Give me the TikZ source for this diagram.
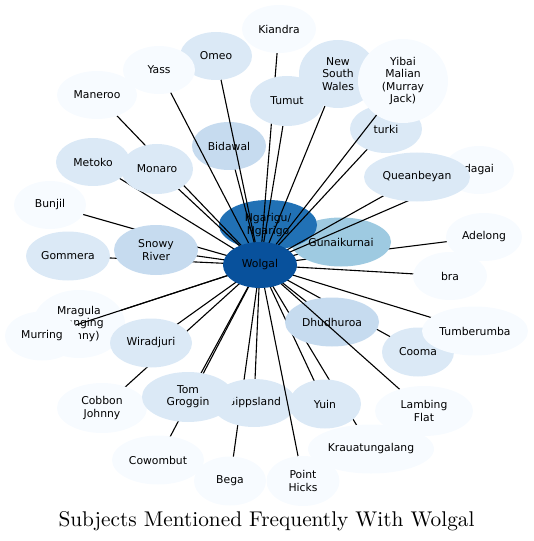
\documentclass[tikz,border=0pt]{standalone}
\usepackage{fontspec}
\newfontfamily\dvsans{DejaVu Sans}
\usetikzlibrary{shapes.geometric}
\definecolor{cA}{HTML}{08519C}
\definecolor{cB}{HTML}{2171B5}
\definecolor{cC}{HTML}{9ECAE1}
\definecolor{cD}{HTML}{C6DBEF}
\definecolor{cE}{HTML}{DBE9F6}
\definecolor{cF}{HTML}{F7FBFF}
\begin{document}
\begin{tikzpicture}[x=1bp,y=-1bp,
  nd/.style={ellipse, inner sep=0pt, align=center, text=black,
    font=\dvsans\fontsize{10.8bp}{12.2bp}\selectfont},
  sz/.style 2 args={minimum width=#1bp, minimum height=#2bp},
  ed/.style={line width=1.1bp, black},
  lvA/.style={nd, fill=cA}, lvB/.style={nd, fill=cB}, lvC/.style={nd, fill=cC},
  lvD/.style={nd, fill=cD}, lvE/.style={nd, fill=cE}, lvF/.style={nd, fill=cF}]
\useasboundingbox (0,0) rectangle (534,541);
% centres
\coordinate (wolgal) at (260,265);
\coordinate (adelong) at (484,237);
\coordinate (gunai) at (341,242);
\coordinate (ngarigu) at (268,225);
\coordinate (bidawal) at (229,146);
\coordinate (omeo) at (216,56);
\coordinate (yass) at (159,70);
\coordinate (kiandra) at (279,29);
\coordinate (tumut) at (287,101);
\coordinate (nsw) at (338,74);
\coordinate (turki) at (386,129);
\coordinate (yibai) at (403,81);
\coordinate (dagai) at (479,170);
\coordinate (quean) at (417,177);
\coordinate (maneroo) at (97,95);
\coordinate (metoko) at (93,162);
\coordinate (monaro) at (157,169);
\coordinate (bunjil) at (50,205);
\coordinate (gommera) at (68,256);
\coordinate (snowy) at (156,250);
\coordinate (mragula) at (79,324);
\coordinate (murring) at (42,336);
\coordinate (cobbon) at (102,408);
\coordinate (wiradjuri) at (151,343);
\coordinate (cowombut) at (158,460);
\coordinate (bega) at (230,481);
\coordinate (gipps) at (254,403);
\coordinate (tom) at (188,397);
\coordinate (kraua) at (371,449);
\coordinate (yuin) at (325,404);
\coordinate (point) at (303,481);
\coordinate (cooma) at (418,352);
\coordinate (dhudh) at (332,322);
\coordinate (lambing) at (424,411);
\coordinate (tumber) at (475,331);
\coordinate (bra) at (450,276);
% edges and nodes, in drawing order
\draw[ed] (wolgal) -- (adelong);
\node[lvF, sz={76}{48}] (n-adelong) at (adelong) {Adelong};
\draw[ed] (wolgal) -- (gunai);
\node[lvC, sz={100}{49}] (n-gunai) at (gunai) {Gunaikurnai};
\draw[ed] (wolgal) -- (ngarigu);
\node[lvB, sz={98}{50}] (n-ngarigu) at (ngarigu) {Ngarigu/\\Ngarigo};
\draw[ed] (wolgal) -- (bidawal);
\node[lvD, sz={74}{48}] (n-bidawal) at (bidawal) {Bidawal};
\draw[ed] (wolgal) -- (omeo);
\node[lvE, sz={72}{48}] (n-omeo) at (omeo) {Omeo};
\draw[ed] (wolgal) -- (yass);
\node[lvF, sz={72}{48}] (n-yass) at (yass) {Yass};
\draw[ed] (wolgal) -- (kiandra);
\node[lvF, sz={74}{48}] (n-kiandra) at (kiandra) {Kiandra};
\draw[ed] (wolgal) -- (tumut);
\node[lvE, sz={74}{50}] (n-tumut) at (tumut) {Tumut};
\draw[ed] (wolgal) -- (nsw);
\node[lvE, sz={78}{68}] (n-nsw) at (nsw) {New\\South\\Wales};
\draw[ed] (wolgal) -- (turki);
\node[lvE, sz={72}{48}] (n-turki) at (turki) {turki};
\draw[ed] (wolgal) -- (yibai);
\node[lvF, sz={90}{84}] (n-yibai) at (yibai) {Yibai\\Malian\\(Murray\\Jack)};
\draw[ed] (wolgal) -- (dagai);
\node[lvF, sz={70}{48}] (n-dagai) at (dagai) {dagai};
\draw[ed] (wolgal) -- (quean);
\node[lvE, sz={106}{49}] (n-quean) at (quean) {Queanbeyan};
\draw[ed] (wolgal) -- (maneroo);
\node[lvF, sz={80}{48}] (n-maneroo) at (maneroo) {Maneroo};
\draw[ed] (wolgal) -- (metoko);
\node[lvE, sz={74}{48}] (n-metoko) at (metoko) {Metoko};
\draw[ed] (wolgal) -- (monaro);
\node[lvE, sz={72}{50}] (n-monaro) at (monaro) {Monaro};
\draw[ed] (wolgal) -- (bunjil);
\node[lvF, sz={72}{48}] (n-bunjil) at (bunjil) {Bunjil};
\draw[ed] (wolgal) -- (gommera);
\node[lvE, sz={84}{49}] (n-gommera) at (gommera) {Gommera};
\draw[ed] (wolgal) -- (snowy);
\node[lvD, sz={84}{50}] (n-snowy) at (snowy) {Snowy\\River};
\draw[ed] (wolgal) -- (mragula);
\node[lvF, sz={92}{68}] (n-mragula) at (mragula) {Mragula\\(Hanging\\Johnny)};
\draw[ed] (wolgal) -- (murring);
\node[lvF, sz={74}{49}] (n-murring) at (murring) {Murring};
\draw[ed] (wolgal) -- (cobbon);
\node[lvF, sz={90}{50}] (n-cobbon) at (cobbon) {Cobbon\\Johnny};
\draw[ed] (wolgal) -- (wiradjuri);
\node[lvE, sz={82}{49}] (n-wiradjuri) at (wiradjuri) {Wiradjuri};
\draw[ed] (wolgal) -- (cowombut);
\node[lvF, sz={92}{49}] (n-cowombut) at (cowombut) {Cowombut};
\draw[ed] (wolgal) -- (bega);
\node[lvF, sz={72}{49}] (n-bega) at (bega) {Bega};
\draw[ed] (wolgal) -- (gipps);
\node[lvE, sz={84}{48}] (n-gipps) at (gipps) {Gippsland};
\draw[ed] (wolgal) -- (tom);
\node[lvE, sz={92}{50}] (n-tom) at (tom) {Tom\\Groggin};
\draw[ed] (wolgal) -- (kraua);
\node[lvF, sz={126}{49}] (n-kraua) at (kraua) {Krauatungalang};
\draw[ed] (wolgal) -- (yuin);
\node[lvE, sz={72}{49}] (n-yuin) at (yuin) {Yuin};
\draw[ed] (wolgal) -- (point);
\node[lvF, sz={73}{50}] (n-point) at (point) {Point\\Hicks};
\draw[ed] (wolgal) -- (cooma);
\node[lvE, sz={72}{49}] (n-cooma) at (cooma) {Cooma};
\draw[ed] (wolgal) -- (dhudh);
\node[lvD, sz={94}{49}] (n-dhudh) at (dhudh) {Dhudhuroa};
\draw[ed] (wolgal) -- (lambing);
\node[lvF, sz={98}{50}] (n-lambing) at (lambing) {Lambing\\Flat};
\draw[ed] (wolgal) -- (tumber);
\node[lvF, sz={106}{49}] (n-tumber) at (tumber) {Tumberumba};
\draw[ed] (wolgal) -- (bra);
\node[lvF, sz={74}{48}] (n-bra) at (bra) {bra};
\node[lvA, sz={74}{46}] (n-wolgal) at (wolgal) {Wolgal};
% title
\node[anchor=base, inner sep=0pt, scale=2.13, transform shape,
  font=\fontsize{10bp}{12bp}\selectfont]
  (title) at (266.5,526) {Subjects Mentioned Frequently With Wolgal};
\end{tikzpicture}
\end{document}
